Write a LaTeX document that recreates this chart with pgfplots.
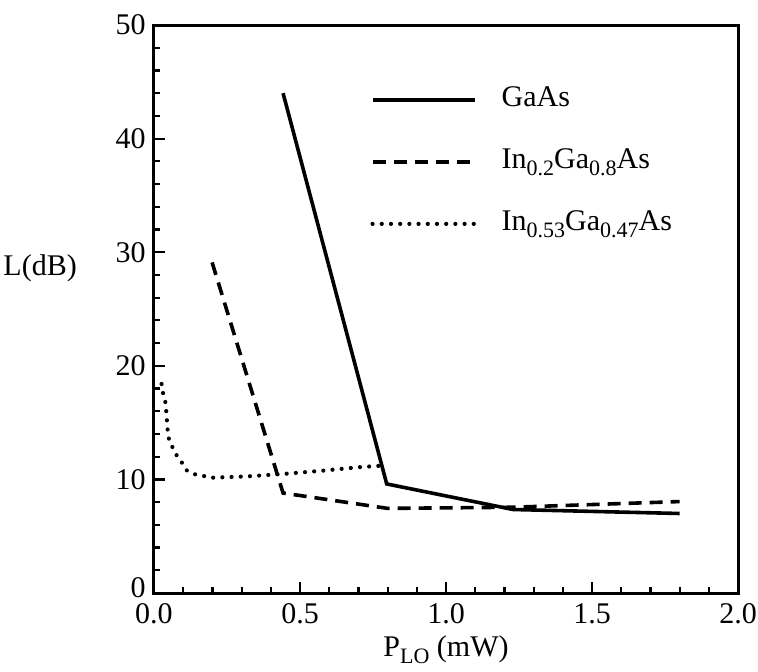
\documentclass[border=0pt]{standalone}
\usepackage{fontspec}
\setmainfont{Liberation Serif}
\usepackage{pgfplots}
\pgfplotsset{compat=1.18}
\newcommand\sub[1]{\raisebox{-3.5pt}{\fontsize{11}{13}\selectfont #1}}
\begin{document}
\begin{tikzpicture}
\useasboundingbox (-77pt,-39pt) rectangle (302pt,296.5pt);
\begin{axis}[
  at={(0pt,0pt)}, anchor=south west,
  scale only axis, width=292pt, height=284pt,
  xmin=0, xmax=2, ymin=0, ymax=50,
  xtick={0,0.5,1,1.5,2}, ytick={0,10,20,30,40,50},
  yticklabels={\raisebox{5pt}{0},10,20,30,40,50},
  minor x tick num=4, minor y tick num=4,
  tick align=inside, tick pos=left,
  major tick length=5.5pt, minor tick length=3pt,
  every tick/.style={line width=1.1pt, black},
  axis line style={line width=1.5pt},
  /pgf/number format/assume math mode=true,
  tick label style={font=\fontsize{15}{18}\selectfont, inner sep=1pt},
  x tick label style={/pgf/number format/.cd, fixed, fixed zerofill, precision=1, /tikz/.cd, yshift=-4pt},
  y tick label style={xshift=-3pt},
  xlabel={P\sub{LO} (mW)},
  xlabel style={font=\fontsize{15}{18}\selectfont, at={(axis description cs:0.5,-0.10)}, anchor=center},
  ylabel={L(dB)},
  ylabel style={font=\fontsize{15}{18}\selectfont, rotate=-90, at={(axis description cs:-0.195,0.572)}, anchor=center},
  legend image code/.code={\draw[#1] (0pt,0pt) -- (51pt,0pt);},
  legend cell align=left,
  legend style={draw=none, fill=none, at={(axis description cs:0.37,0.759)}, anchor=west,
    inner sep=0pt, row sep=16pt, column sep=12.5pt, font=\fontsize{15}{18}\selectfont,
    nodes={inner sep=0pt, text height=11pt, text depth=4pt}},
]
\addplot[black, line width=1.8pt, mark=none] coordinates {
 (0.442,44.0) (0.797,9.6) (1.23,7.35) (1.80,7.0)
};
\addlegendentry{GaAs}
\addplot[black, line width=1.8pt, mark=none, dash pattern=on 6.5pt off 4pt] coordinates {
 (0.199,29.1) (0.442,8.8) (0.80,7.45) (1.23,7.55) (1.80,8.05)
};
\addlegendentry{In\sub{0.2}Ga\sub{0.8}As}
\addplot[black, line width=2.1pt, mark=none, line cap=round, dash pattern=on 0pt off 4.6pt] coordinates {
 (0.026,18.4) (0.031,17.6) (0.040,16.7) (0.043,15.6) (0.047,14.3) (0.052,13.4)
 (0.066,12.7) (0.082,11.9) (0.098,11.4) (0.112,10.8) (0.140,10.45) (0.20,10.15)
 (0.323,10.27) (0.452,10.5) (0.578,10.77) (0.70,11.07) (0.797,11.24)
};
\addlegendentry{In\sub{0.53}Ga\sub{0.47}As}
\end{axis}
\end{tikzpicture}
\end{document}
